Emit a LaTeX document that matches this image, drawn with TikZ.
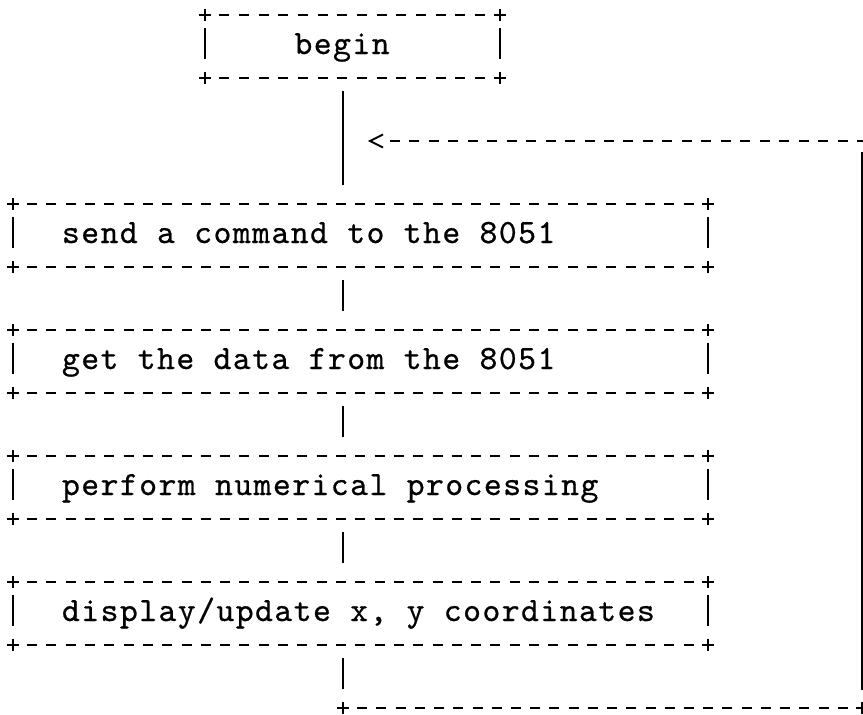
\documentclass[tikz,border=0pt]{standalone}
\usepackage{fontspec}
% typewriter face, spaced out to a fixed character pitch
\newfontfamily\asciifont{lmmono10-regular.otf}[LetterSpace=4.3, FakeBold=0.6]
\usetikzlibrary{calc}

\tikzset{
  glyph/.style={line width=1.8pt, line cap=butt},
  rule/.style={glyph},
  asciiplus/.pic={\draw[glyph] (-6,0) -- (6,0) (0,-6) -- (0,6);},
  flowbox/.style={rectangle, draw=none, minimum height=63pt, inner ysep=0pt,
    text height=22pt, text depth=7pt,
    font=\asciifont\fontsize{34}{40}\selectfont},
  widebox/.style={flowbox, inner xsep=49pt},
  startbox/.style={flowbox, inner xsep=89.5pt},
}

% frame of a box: dashed top and bottom, bars at the sides, plus signs at the corners
% #1 node, #2 end offset of the dashes, #3 gap between dashes
\newcommand\asciiframe[3]{%
  \draw[rule, dash pattern=on 10pt off #3pt, shorten <=#2pt, shorten >=#2pt]
    (#1.north west) -- (#1.north east);
  \draw[rule, dash pattern=on 10pt off #3pt, shorten <=#2pt, shorten >=#2pt]
    (#1.south west) -- (#1.south east);
  \draw[glyph] ($(#1.north west)+(0,13)$) -- ($(#1.south west)+(0,-19)$);
  \draw[glyph] ($(#1.north east)+(0,13)$) -- ($(#1.south east)+(0,-19)$);
  \foreach \corner in {north west,north east,south west,south east}
    \pic at (#1.\corner) {asciiplus};
}

\begin{document}
\begin{tikzpicture}[x=1pt, y=-1pt]
\useasboundingbox (0,0) rectangle (863,715);

% boxes
\node[startbox] (begin)   at (352.5,46.5)  {\makebox[116pt][l]{begin}};
\node[widebox]  (send)    at (360.5,235.5) {\makebox[597pt][l]{send a command to the 8051}};
\node[widebox]  (get)     at (360.5,361.5) {\makebox[597pt][l]{get the data from the 8051}};
\node[widebox]  (perform) at (360.5,487.5) {\makebox[597pt][l]{perform numerical processing}};
\node[widebox]  (display) at (360.5,613.5) {\makebox[597pt][l]{display/update x, y coordinates}};

\asciiframe{begin}{14.667}{9.667}
\asciiframe{send}{14.306}{9.306}
\asciiframe{get}{14.306}{9.306}
\asciiframe{perform}{14.306}{9.306}
\asciiframe{display}{14.306}{9.306}

% main flow
\coordinate (spine) at (343,0);
\draw[glyph, shorten <=13pt, shorten >=19pt] (begin.south -| spine) -- (send.north -| spine);
\draw[glyph, shorten <=13pt, shorten >=19pt] (send.south -| spine) -- (get.north -| spine);
\draw[glyph, shorten <=13pt, shorten >=19pt] (get.south -| spine) -- (perform.north -| spine);
\draw[glyph, shorten <=13pt, shorten >=19pt] (perform.south -| spine) -- (display.north -| spine);

% loop back to the top
\coordinate (loopfoot)   at (343,708);
\coordinate (loopcorner) at (862,708);
\coordinate (looptop)    at (862,141);
\coordinate (loophead)   at (370,141);
\draw[glyph, shorten <=13pt, shorten >=19pt] (display.south -| spine) -- (loopfoot);
\pic at (loopfoot) {asciiplus};
\draw[rule, dash pattern=on 10pt off 9.22pt, shorten <=14.22pt, shorten >=14.22pt]
  (loopfoot) -- (loopcorner);
\pic at (loopcorner) {asciiplus};
\draw[glyph, shorten <=18pt, shorten >=11pt] (loopcorner) -- (looptop);
\draw[rule, dash pattern=on 10pt off 9.46pt] ($(looptop)+(5,0)$) -- ($(loophead)+(20,0)$);
\draw[glyph, line join=miter] ($(loophead)+(13,-6.5)$) -- (loophead) -- ($(loophead)+(13,6.5)$);
\end{tikzpicture}
\end{document}
